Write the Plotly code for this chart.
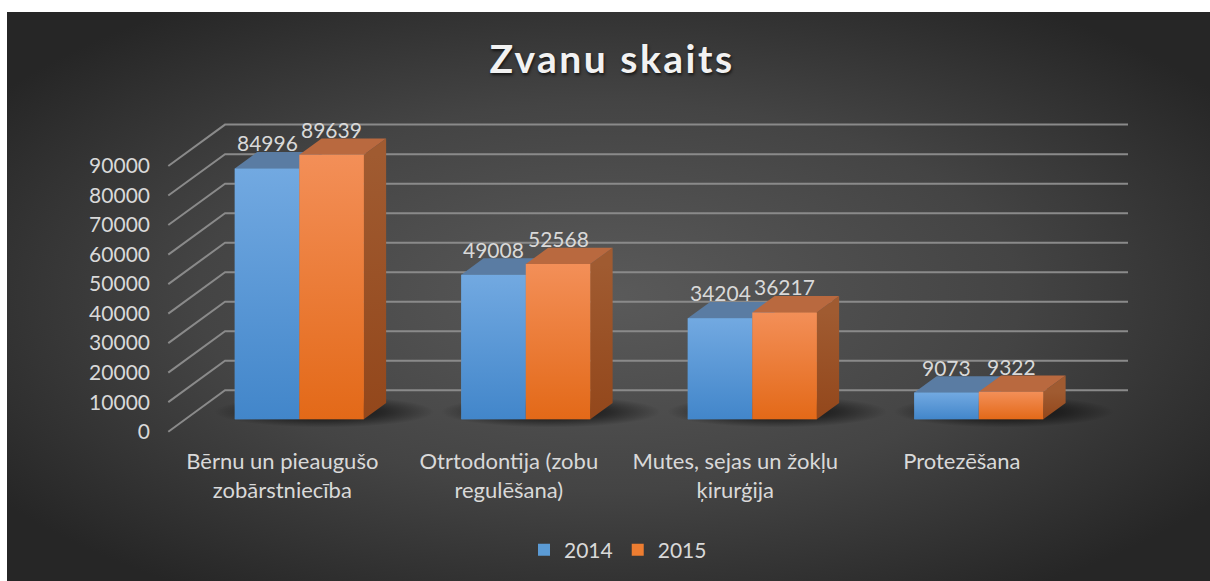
import base64
import numpy as np
import plotly.graph_objects as go

# ---- data -------------------------------------------------------------
categories = [
    "Bērnu un pieaugušo<br>zobārstniecība",
    "Otrtodontija (zobu<br>regulēšana)",
    "Mutes, sejas un žokļu<br>ķirurģija",
    "Protezēšana",
]
series_names = ["2014", "2015"]
values_2014 = [84996, 49008, 34204, 9073]
values_2015 = [89639, 52568, 36217, 9322]
y_ticks = [0, 10000, 20000, 30000, 40000, 50000, 60000, 70000, 80000, 90000]

# ---- canvas / pseudo-3D projection (screen pixels) --------------------
W, H = 1210, 581
PX_PER_CAT = 226.5          # horizontal distance between category groups
PX_PER_VAL = 29.52 / 10000  # vertical pixels per unit of value
X0_PX = 282.3               # first category centre on the front floor edge
Y0_PX = 431.7               # value 0 on the front floor edge
SLOPE = 1.37                # horizontal shift per pixel of depth
D_FRONT = 12.4              # depth of the bar front faces
D_BAR = 16.3                # depth of a bar
D_BACK = 41.4               # depth of the back wall
BAR_PX = 64.5               # bar width
WALL_LEFT_PX = 168.3
WALL_RIGHT_PX = 1128.0

x_range = [-X0_PX / PX_PER_CAT, (W - X0_PX) / PX_PER_CAT]
y_range = [-(H - Y0_PX) / PX_PER_VAL, Y0_PX / PX_PER_VAL]


def dx(depth):
    return depth * SLOPE / PX_PER_CAT


def dy(depth):
    return depth / PX_PER_VAL


def px_to_x(px):
    return (px - X0_PX) / PX_PER_CAT


bw = BAR_PX / PX_PER_CAT
base = dy(D_FRONT)

colors = {
    "2014": dict(solid="#5b9bd5", light="#72a9e1", dark="#4286ca",
                 top="#5a7ca3", side_l="#4a6f99", side_d="#3f5f85"),
    "2015": dict(solid="#ed7d31", light="#f38f58", dark="#e36918",
                 top="#b9693f", side_l="#a05b31", side_d="#93471b"),
}
text_color = "#d9d9d9"
grid_color = "#8a8a8a"

fig = go.Figure()

# ---- walls: left-wall diagonals and back-wall gridlines ----------------
xl = px_to_x(WALL_LEFT_PX)
xr = px_to_x(WALL_RIGHT_PX)
wx, wy = [], []
for v in y_ticks:
    wx += [xl, xl + dx(D_BACK), xr, None]
    wy += [v, v + dy(D_BACK), v + dy(D_BACK), None]
fig.add_trace(go.Scatter(x=wx, y=wy, mode="lines", hoverinfo="skip",
                         line=dict(color=grid_color, width=2), showlegend=False))

# ---- soft floor shadows under each group -------------------------------
t = np.linspace(0, 2 * np.pi, 73)
for i in range(len(categories)):
    cx = i + 42 / PX_PER_CAT
    cy = dy(20)
    fig.add_trace(go.Scatter(
        x=cx + (110 / PX_PER_CAT) * np.cos(t),
        y=cy + (16 / PX_PER_VAL) * np.sin(t),
        mode="lines", line=dict(width=0), fill="toself", hoverinfo="skip",
        fillgradient=dict(type="radial",
                          colorscale=[[0, "rgba(0,0,0,0.85)"],
                                      [0.55, "rgba(0,0,0,0.45)"],
                                      [1, "rgba(0,0,0,0)"]]),
        showlegend=False))

# ---- bars: real bar traces for the front faces -------------------------
all_values = [values_2014, values_2015]
for s, (name, vals) in enumerate(zip(series_names, all_values)):
    c = colors[name]
    fig.add_trace(go.Bar(
        x=[i + dx(D_FRONT) + (s - 0.5) * bw for i in range(len(vals))],
        y=vals, base=[base] * len(vals), width=bw, name=name,
        marker=dict(color=c["solid"], line=dict(width=0)),
        hoverinfo="skip"))

# ---- 3D faces (side, top, shaded front) drawn per series ----------------
for s, (name, vals) in enumerate(zip(series_names, all_values)):
    c = colors[name]
    for i, v in enumerate(vals):
        left = i + dx(D_FRONT) + (s - 1) * bw
        right = left + bw
        top = base + v
        # right side face
        fig.add_trace(go.Scatter(
            x=[right, right, right + dx(D_BAR), right + dx(D_BAR), right],
            y=[base, top, top + dy(D_BAR), base + dy(D_BAR), base],
            mode="lines", line=dict(width=0), fill="toself", hoverinfo="skip",
            fillgradient=dict(type="vertical", start=base, stop=top,
                              colorscale=[[0, c["side_d"]], [1, c["side_l"]]]),
            showlegend=False))
        # top face
        fig.add_trace(go.Scatter(
            x=[left, right, right + dx(D_BAR), left + dx(D_BAR), left],
            y=[top, top, top + dy(D_BAR), top + dy(D_BAR), top],
            mode="lines", line=dict(width=0), fill="toself", fillcolor=c["top"],
            hoverinfo="skip", showlegend=False))
        # shaded front face
        fig.add_trace(go.Scatter(
            x=[left, right, right, left, left],
            y=[base, base, top, top, base],
            mode="lines", line=dict(width=0), fill="toself", hoverinfo="skip",
            fillgradient=dict(type="vertical", start=base, stop=top,
                              colorscale=[[0, c["dark"]], [1, c["light"]]]),
            showlegend=False))

# ---- value labels ------------------------------------------------------
for s, (name, vals) in enumerate(zip(series_names, all_values)):
    for i, v in enumerate(vals):
        fig.add_annotation(
            x=i + dx(D_FRONT) + (s - 0.5) * bw, y=base + v,
            text=str(v), showarrow=False, yanchor="bottom", yshift=11,
            font=dict(family="Lato", size=21, color=text_color))

# ---- background: dark radial gradient ---------------------------------
bg_w, bg_h = W - 7, H - 12
svg = (
    f'<svg xmlns="http://www.w3.org/2000/svg" width="{bg_w}" height="{bg_h}" '
    f'viewBox="0 0 {bg_w} {bg_h}" preserveAspectRatio="none">'
    '<defs><radialGradient id="g" cx="0.5" cy="0.5" r="0.62">'
    '<stop offset="0" stop-color="#5a5a5a"/>'
    '<stop offset="0.55" stop-color="#444444"/>'
    '<stop offset="1" stop-color="#262626"/>'
    '</radialGradient></defs>'
    f'<rect width="{bg_w}" height="{bg_h}" fill="url(#g)"/></svg>'
)
bg_src = "data:image/svg+xml;base64," + base64.b64encode(svg.encode()).decode()

fig.update_layout(
    width=W, height=H,
    margin=dict(l=0, r=0, t=0, b=0),
    paper_bgcolor="white",
    plot_bgcolor="rgba(0,0,0,0)",
    barmode="overlay",
    images=[dict(source=bg_src, xref="paper", yref="paper",
                 x=7 / W, y=1 - 12 / H, sizex=bg_w / W, sizey=bg_h / H,
                 xanchor="left", yanchor="top", sizing="stretch", layer="below")],
    title=dict(
        text='<span style="letter-spacing:2.5px">Zvanu skaits</span>',
        x=612 / W, xanchor="center", y=1 - 59 / H, yanchor="middle",
        font=dict(family="Lato", size=39, weight=700, color="#f2f2f2",
                  shadow="1px 2px 3px rgba(0,0,0,0.65)")),
    xaxis=dict(range=x_range, domain=[0, 1], anchor="free", position=1 - 446 / H,
               tickmode="array", tickvals=list(range(len(categories))),
               ticktext=categories, showgrid=False, zeroline=False,
               showline=False, ticks="",
               tickfont=dict(family="Lato", size=22, color=text_color)),
    yaxis=dict(range=y_range, domain=[0, 1], anchor="free", position=150 / W,
               tickmode="array", tickvals=y_ticks,
               ticktext=[str(v) for v in y_ticks],
               showgrid=False, zeroline=False, showline=False, ticks="",
               tickfont=dict(family="Lato", size=21, color=text_color)),
    legend=dict(orientation="h", x=618 / W, xanchor="center",
                y=1 - 550 / H, yanchor="middle", bgcolor="rgba(0,0,0,0)",
                font=dict(family="Lato", size=21, color=text_color),
                itemclick=False, itemdoubleclick=False),
    showlegend=True,
)

fig.write_html("out.html", config=dict(displayModeBar=False))
